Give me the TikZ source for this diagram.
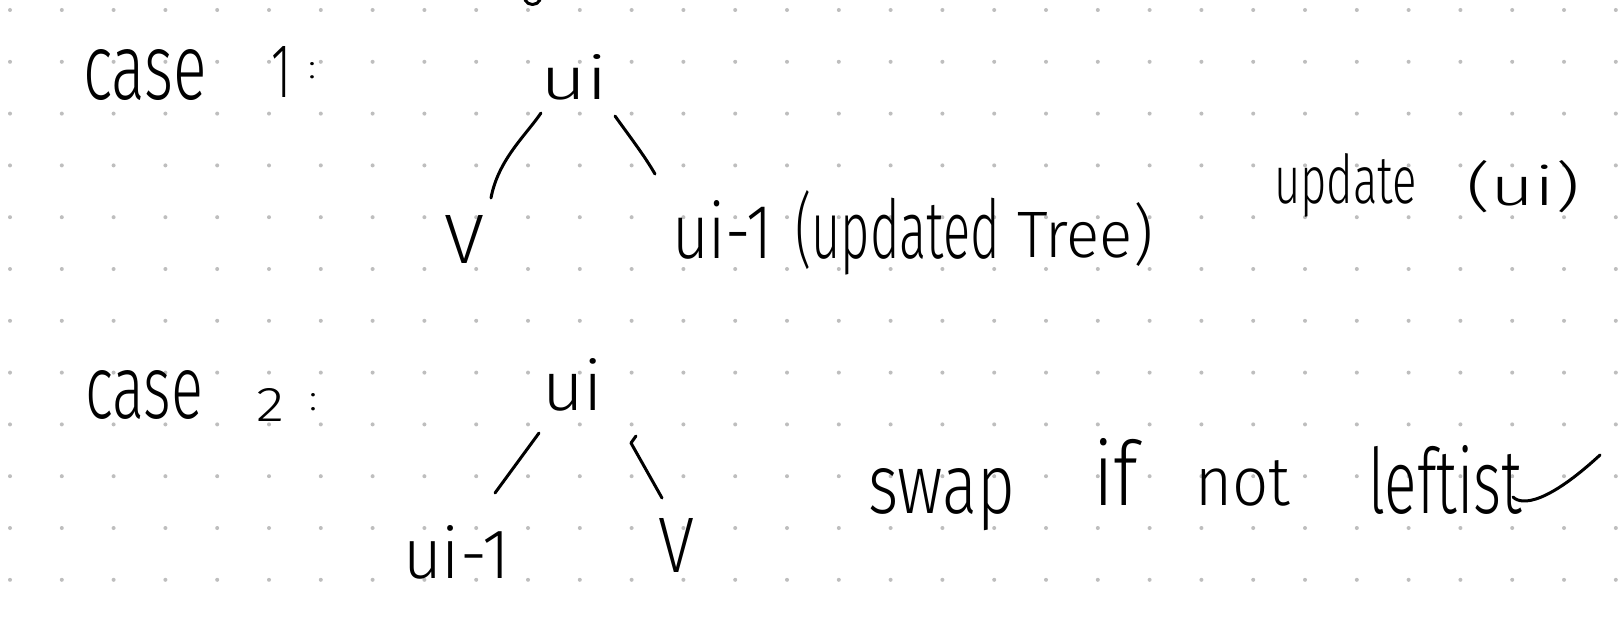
\documentclass[tikz,border=0pt]{standalone}
\usepackage{fontspec}
\usepackage{graphicx}
\newfontfamily\hand{Fira Sans Light}
\definecolor{dotc}{RGB}{190,190,190}
\newcommand\hw[6]{\node[word] (#1) at (#2,#3) {\resizebox{#4pt}{#5pt}{\hand #6}};}
\tikzset{
  word/.style={anchor=base west, inner sep=0pt, outer sep=0pt, text=black},
  pen/.style={draw=black, line width=3pt, line cap=round, line join=round},
  griddot/.style={fill=dotc}
}
\begin{document}
\begin{tikzpicture}[x=1pt,y=-1pt]
\useasboundingbox (0,0) rectangle (1621,623);
\fill[white] (0,0) rectangle (1621,623);
% dot grid
\foreach \i in {0,...,31}{
  \foreach \j in {0,...,11}{
    \fill[griddot] ({10+51.8*\i},{10+51.8*\j}) circle[radius=2pt];
  }
}
% fragment at top edge
\coordinate (fa) at (525,0);
\coordinate (fb) at (540,0);
\draw[pen] (fa) .. controls (528,6) and (537,6) .. (fb);

% ---------- case 1 ----------
\hw{case1}{83}{100}{124}{50}{case}
\hw{one}{271}{98}{20}{51}{1}
\hw{colA}{308}{79}{8}{16}{:}
\hw{uiA}{540}{100}{68}{45}{ui}
\hw{vA}{444}{263}{40}{48}{V}
\hw{uiAm}{672}{258}{101}{58}{ui-1}
\hw{updA}{795}{258}{205}{68}{(updated}
\hw{treeA}{1017}{257}{136}{55}{Tree)}
\hw{updB}{1274}{203}{143}{50}{update}
\hw{uiB}{1466}{205}{114}{45}{(ui)}
\coordinate (e1a) at (541,113);
\coordinate (e1b) at (491,198);
\coordinate (e2a) at (615,116);
\coordinate (e2b) at (655,174);
\draw[pen] (e1a) .. controls (526,135) and (498,160) .. (e1b);
\draw[pen] (e2a) .. controls (630,137) and (644,155) .. (e2b);

% ---------- case 2 ----------
\hw{case2}{85}{418}{118}{48}{case}
\hw{two}{256}{421}{28}{33}{2}
\hw{colB}{309}{410}{8}{17}{:}
\hw{uiC}{542}{410}{61}{52}{ui}
\hw{uiCm}{403}{578}{107}{53}{ui-1}
\hw{vC}{658}{572}{36}{54}{V}
\coordinate (e3a) at (539,433);
\coordinate (e3b) at (495,493);
\coordinate (e4a) at (636,436);
\coordinate (e4m) at (631,443);
\coordinate (e4b) at (662,498);
\draw[pen] (e3a) -- (e3b);
\draw[pen] (e4a) -- (e4m) -- (e4b);

\hw{swap}{868}{513}{147}{45}{swap}
\hw{ifw}{1093}{505}{45}{67}{if}
\hw{notw}{1195}{505}{95}{45}{not}
\hw{left}{1368}{513}{154}{68}{leftist}
\coordinate (sw1) at (1513,497);
\coordinate (sw2) at (1600,455);
\draw[pen] (sw1) .. controls (1522,506) and (1548,503) .. (sw2);
\end{tikzpicture}
\end{document}
